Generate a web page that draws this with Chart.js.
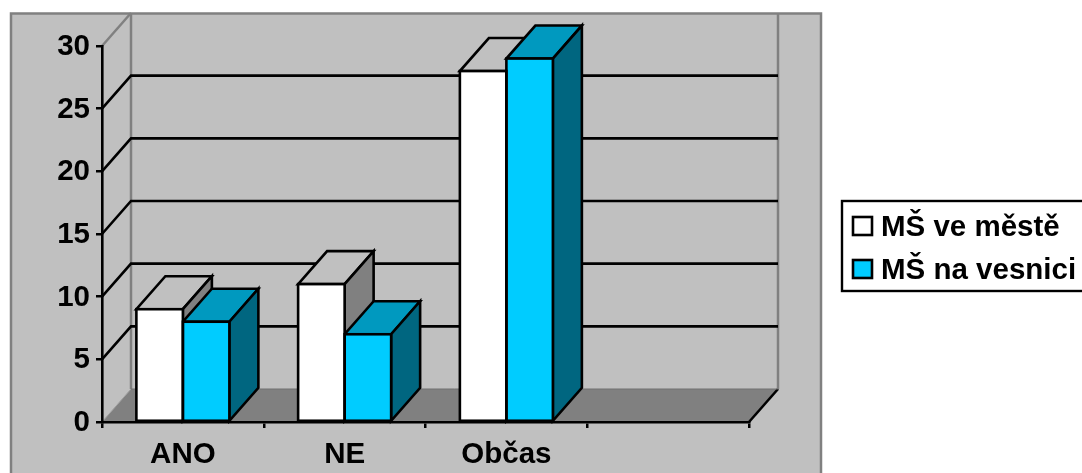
<!DOCTYPE html>
<html>
<head>
<meta charset="utf-8">
<style>html,body{margin:0;padding:0;background:#fff;overflow:hidden}#c{display:block}</style>
<script src="https://cdn.jsdelivr.net/npm/chart.js@4/dist/chart.umd.min.js"></script>
</head>
<body>
<div style="width:1082px;height:473px;position:relative"><canvas id="c"></canvas></div>
<script>
const categories = ['ANO', 'NE', 'Občas', ''];
const seriesMesto = [9, 11, 28, null];
const seriesVesnice = [8, 7, 29, null];
const seriesNames = ['MŠ ve městě', 'MŠ na vesnici'];
const FONT_FAMILY = '"Liberation Sans", Arial, sans-serif';
const FONT_SIZE = 29.5;
const DX = 29, DY = -33;
const styles = [
  {front:'#FFFFFF', top:'#C0C0C0', side:'#808080'},
  {front:'#00CCFF', top:'#0099BF', side:'#006680'}
];
function poly(ctx, pts, fill, stroke, w){
  ctx.beginPath();
  pts.forEach((p,i)=> i ? ctx.lineTo(p[0],p[1]) : ctx.moveTo(p[0],p[1]));
  ctx.closePath();
  if(fill){ctx.fillStyle=fill;ctx.fill();}
  if(stroke){ctx.strokeStyle=stroke;ctx.lineWidth=w;ctx.lineJoin='miter';ctx.stroke();}
}
function line(ctx, pts, color, w){
  ctx.beginPath();
  pts.forEach((p,i)=> i ? ctx.lineTo(p[0],p[1]) : ctx.moveTo(p[0],p[1]));
  ctx.strokeStyle=color;ctx.lineWidth=w;ctx.lineJoin='miter';ctx.stroke();
}
function eachBar(chart,index,fn){
  chart.getDatasetMeta(index).data.forEach((el,i)=>{
    if(chart.data.datasets[index].data[i]==null) return;
    fn(el);
  });
}
const depth = {
  id:'depth',
  beforeDraw(chart){
    const ctx=chart.ctx, a=chart.chartArea, ys=chart.scales.y;
    ctx.save();
    ctx.fillStyle='#fff';ctx.fillRect(0,0,1082,473);
    ctx.fillStyle='#C0C0C0';ctx.fillRect(11,13,810,470);
    ctx.strokeStyle='#808080';ctx.lineWidth=2.5;ctx.strokeRect(11,13.5,810,470);
    // floor
    poly(ctx,[[a.left,a.bottom],[a.right,a.bottom],[a.right+DX,a.bottom+DY],[a.left+DX,a.bottom+DY]],'#808080');
    line(ctx,[[a.left,a.bottom],[a.left+DX,a.bottom+DY]],'#A0A0A0',1);
    line(ctx,[[a.right,a.bottom],[a.right+DX,a.bottom+DY]],'#000',2.6);
    // walls
    line(ctx,[[a.left+DX,a.top+DY],[a.left+DX,a.bottom+DY]],'#808080',2.5);
    line(ctx,[[a.right+DX,a.top+DY],[a.right+DX,a.bottom+DY]],'#808080',2.5);
    line(ctx,[[a.left+DX,a.bottom+DY],[a.right+DX,a.bottom+DY]],'#707070',1);
    line(ctx,[[a.left,a.top],[a.left+DX,a.top+DY]],'#808080',2.5);
    ys.ticks.forEach(t=>{
      if(t.value<=0||t.value>=30) return;
      const y=ys.getPixelForValue(t.value);
      line(ctx,[[a.left,y],[a.left+DX,y+DY],[a.right+DX,y+DY]],'#000',2.6);
    });
    // legend
    ctx.strokeStyle='#000';ctx.lineWidth=2.4;ctx.fillStyle='#fff';
    ctx.fillRect(842,201,260,90);ctx.strokeRect(842,201,260,90);
    const rows=[[217,236],[260,279]];
    seriesNames.forEach((n,i)=>{
      ctx.fillStyle=styles[i].front;ctx.fillRect(853,rows[i][0],19,18);
      ctx.strokeStyle='#000';ctx.lineWidth=2.6;ctx.strokeRect(853,rows[i][0],19,18);
      ctx.fillStyle='#000';ctx.font='bold '+FONT_SIZE+'px '+FONT_FAMILY;ctx.textAlign='left';ctx.textBaseline='alphabetic';
      ctx.fillText(n,881,rows[i][1]);
    });
    ctx.restore();
  },
  beforeDatasetsDraw(chart){
    const ctx=chart.ctx;
    ctx.save();
    styles.forEach((s,idx)=>{
      eachBar(chart,idx,el=>{
        const l=el.x-el.width/2, r=el.x+el.width/2, t=el.y, b=el.base;
        poly(ctx,[[l,t],[r,t],[r+DX,t+DY],[l+DX,t+DY]],s.top,'#000',2.6);
        poly(ctx,[[r,t],[r+DX,t+DY],[r+DX,b+DY],[r,b]],s.side,'#000',2.6);
      });
    });
    ctx.restore();
  },
  afterDatasetsDraw(chart){
    const ctx=chart.ctx;
    ctx.save();ctx.strokeStyle='#000';ctx.lineWidth=2.6;
    styles.forEach((s,idx)=>{
      eachBar(chart,idx,el=>{
        ctx.strokeRect(el.x-el.width/2,el.y,el.width,el.base-el.y);
      });
    });
    ctx.restore();
  }
};
new Chart(document.getElementById('c'),{
  type:'bar',
  data:{labels:categories,datasets:[
    {label:seriesNames[0],data:seriesMesto,backgroundColor:styles[0].front,borderWidth:0},
    {label:seriesNames[1],data:seriesVesnice,backgroundColor:styles[1].front,borderWidth:0}
  ]},
  options:{
    responsive:true,maintainAspectRatio:false,animation:false,
    layout:{padding:{left:0,top:46,right:333,bottom:0}},
    plugins:{legend:{display:false},tooltip:{enabled:false}},
    datasets:{bar:{categoryPercentage:0.575,barPercentage:1}},
    scales:{
      x:{
        afterFit(s){s.height=51;},
        grid:{drawOnChartArea:false,drawTicks:true,tickLength:6,color:'#000',lineWidth:2.5,offset:true},
        border:{color:'#000',width:2.6},
        ticks:{color:'#000',font:{family:FONT_FAMILY,size:FONT_SIZE,weight:'bold'},padding:9,maxRotation:0,autoSkip:false}
      },
      y:{
        min:0,max:30,
        afterFit(s){s.width=102;},
        grid:{drawOnChartArea:false,drawTicks:true,tickLength:6,color:'#000',lineWidth:2.5},
        border:{color:'#000',width:2.6},
        ticks:{color:'#000',stepSize:5,font:{family:FONT_FAMILY,size:FONT_SIZE,weight:'bold'},padding:6,labelOffset:1}
      }
    }
  },
  plugins:[depth]
});
</script>
</body>
</html>
